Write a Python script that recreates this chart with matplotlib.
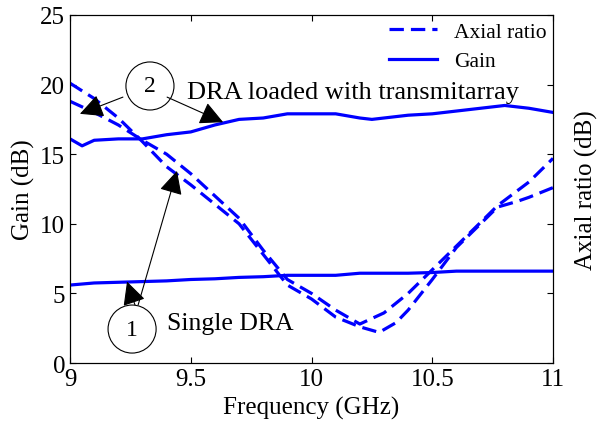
import numpy as np
import matplotlib.pyplot as plt
from matplotlib.patches import Ellipse

plt.rcParams['font.family'] = ['Liberation Serif', 'DejaVu Serif']

# Axial ratio curves (dB)
f_ar1 = [9.0, 9.1, 9.2, 9.3, 9.4, 9.5, 9.6, 9.7, 9.8, 9.9, 10.0, 10.1, 10.2, 10.28,
         10.35, 10.4, 10.5, 10.6, 10.7, 10.77, 10.85, 10.9, 11.0]
ar1 = [20.1, 19.0, 17.6, 15.9, 14.1, 12.8, 11.4, 10.0, 7.8, 5.6, 4.6, 3.3, 2.6, 2.2,
       2.9, 3.8, 6.0, 8.3, 10.0, 11.2, 11.6, 11.9, 12.6]
f_ar2 = [9.0, 9.1, 9.2, 9.3, 9.4, 9.5, 9.6, 9.7, 9.8, 9.9, 10.0, 10.1, 10.2,
         10.3, 10.4, 10.5, 10.6, 10.7, 10.77, 10.9, 11.0]
ar2 = [18.8, 18.0, 17.1, 16.0, 15.0, 13.6, 12.0, 10.4, 8.1, 6.0, 5.0, 3.8, 2.8,
       3.6, 5.0, 6.7, 8.4, 10.1, 11.3, 13.0, 14.7]

# Gain, DRA loaded with transmitarray (dB)
f_g2 = [9.0, 9.05, 9.1, 9.2, 9.3, 9.4, 9.5, 9.6, 9.7, 9.8, 9.9, 10.0, 10.1, 10.2,
        10.25, 10.3, 10.4, 10.5, 10.6, 10.7, 10.8, 10.9, 11.0]
g2 = [16.1, 15.6, 16.0, 16.1, 16.1, 16.4, 16.6, 17.1, 17.5, 17.6, 17.9, 17.9, 17.9,
      17.6, 17.5, 17.6, 17.8, 17.9, 18.1, 18.3, 18.5, 18.3, 18.0]

# Gain, single DRA (dB)
f_g1 = [9.0, 9.1, 9.2, 9.3, 9.4, 9.5, 9.6, 9.7, 9.8, 9.9, 10.0, 10.1, 10.2, 10.3,
        10.4, 10.5, 10.6, 11.0]
g1 = [5.6, 5.75, 5.8, 5.85, 5.9, 6.0, 6.05, 6.15, 6.2, 6.3, 6.3, 6.3, 6.45, 6.45,
      6.45, 6.5, 6.6, 6.6]

blue = '#0000ff'
dash = (0, (4.5, 2.2))

fig = plt.figure(figsize=(6, 4.39), dpi=100)
ax = fig.add_axes([0.1167, 0.1708, 0.805, 0.7928])

ax.plot(f_ar1, ar1, color=blue, lw=2.3, linestyle=dash, label='Axial ratio')
ax.plot(f_ar2, ar2, color=blue, lw=2.3, linestyle=dash)
ax.plot(f_g2, g2, color=blue, lw=2.3, label='Gain')
ax.plot(f_g1, g1, color=blue, lw=2.3)

ax.set_xlim(9, 11)
ax.set_ylim(0, 25)
ax.set_xticks([9, 9.5, 10, 10.5, 11])
ax.set_xticklabels(['9', '9.5', '10', '10.5', '11'])
ax.set_yticks([0, 5, 10, 15, 20, 25])
ax.tick_params(direction='in', length=4, labelsize=18, top=True)
ax.set_xlabel('Frequency (GHz)', fontsize=18)
ax.set_ylabel('Gain (dB)', fontsize=18)

ax2 = ax.twinx()
ax2.set_ylim(0, 25)
ax2.set_yticks([0, 5, 10, 15, 20, 25])
ax2.set_yticklabels([])
ax2.tick_params(direction='in', length=4)
ax2.set_ylabel('Axial ratio (dB)', fontsize=18, labelpad=12)

ax.legend(loc='upper right', frameon=False, fontsize=15.5, handlelength=2.2,
          borderaxespad=0.1, labelspacing=0.45, borderpad=0.2)

# annotations
ax.add_patch(Ellipse((9.331, 19.9), 0.199, 3.45, fill=False, color='k', lw=0.8))
ax.text(9.331, 19.9, '2', ha='center', va='center', fontsize=17)
ax.text(9.484, 19.45, 'DRA loaded with transmitarray', ha='left', va='center', fontsize=19)
ax.add_patch(Ellipse((9.257, 2.44), 0.199, 3.45, fill=False, color='k', lw=0.8))
ax.text(9.257, 2.44, '1', ha='center', va='center', fontsize=17)
ax.text(9.40, 2.9, 'Single DRA', ha='left', va='center', fontsize=18.5)

arrow = dict(arrowstyle='-|>', color='k', lw=0.8, mutation_scale=36, shrinkA=0, shrinkB=0)
ax.annotate('', xy=(9.041, 17.9), xytext=(9.219, 19.1), arrowprops=arrow)
ax.annotate('', xy=(9.634, 17.3), xytext=(9.402, 19.1), arrowprops=arrow)
ax.annotate('', xy=(9.236, 5.85), xytext=(9.269, 4.17), arrowprops=arrow)
ax.annotate('', xy=(9.443, 13.8), xytext=(9.282, 4.17), arrowprops=arrow)

fig.savefig('out.png', dpi=100)
